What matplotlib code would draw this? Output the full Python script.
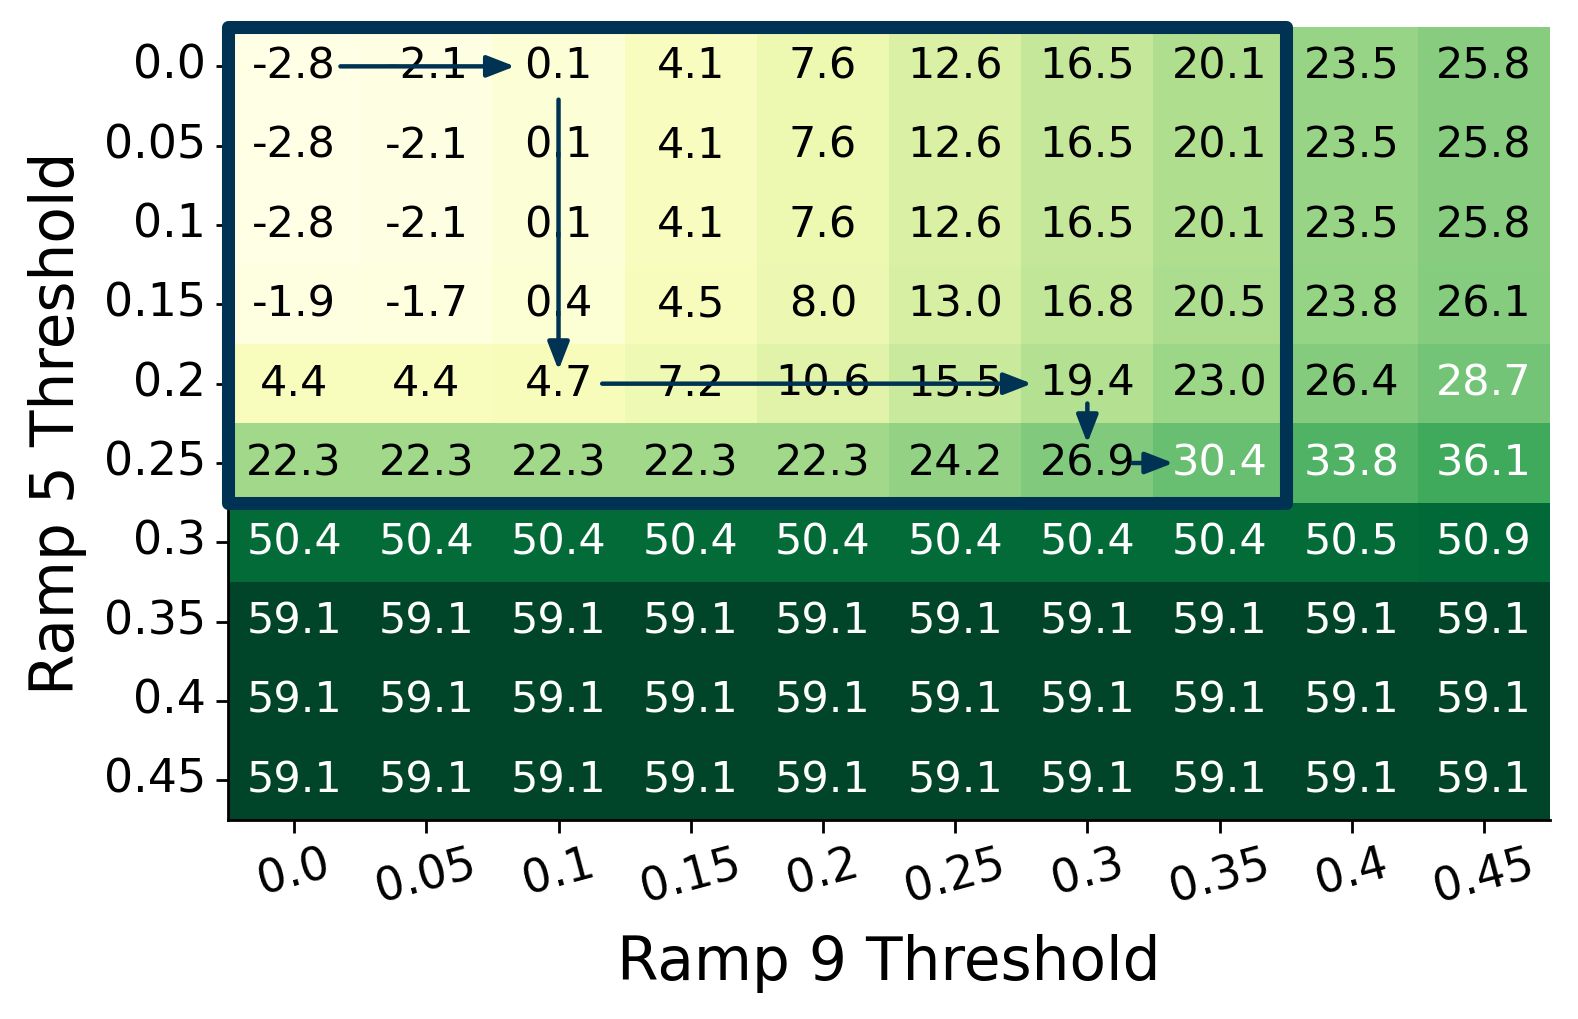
import numpy as np
import matplotlib
matplotlib.use("Agg")
import matplotlib.pyplot as plt
import seaborn as sns
from matplotlib.patches import Rectangle

# Ramp 5 threshold (rows) x Ramp 9 threshold (cols)
ramp5 = ["0.0", "0.05", "0.1", "0.15", "0.2", "0.25", "0.3", "0.35", "0.4", "0.45"]
ramp9 = ["0.0", "0.05", "0.1", "0.15", "0.2", "0.25", "0.3", "0.35", "0.4", "0.45"]

row_00 = [-2.8, -2.1, 0.1, 4.1, 7.6, 12.6, 16.5, 20.1, 23.5, 25.8]
row_05 = [-2.8, -2.1, 0.1, 4.1, 7.6, 12.6, 16.5, 20.1, 23.5, 25.8]
row_10 = [-2.8, -2.1, 0.1, 4.1, 7.6, 12.6, 16.5, 20.1, 23.5, 25.8]
row_15 = [-1.9, -1.7, 0.4, 4.5, 8.0, 13.0, 16.8, 20.5, 23.8, 26.1]
row_20 = [4.4, 4.4, 4.7, 7.2, 10.6, 15.5, 19.4, 23.0, 26.4, 28.7]
row_25 = [22.3, 22.3, 22.3, 22.3, 22.3, 24.2, 26.9, 30.4, 33.8, 36.1]
row_30 = [50.4, 50.4, 50.4, 50.4, 50.4, 50.4, 50.4, 50.4, 50.5, 50.9]
row_35 = [59.1] * 10
row_40 = [59.1] * 10
row_45 = [59.1] * 10

grid = np.array([row_00, row_05, row_10, row_15, row_20,
                 row_25, row_30, row_35, row_40, row_45])

# search path drawn over the grid (start -> end, in cell units)
path_arrows = [
    ((0.85, 0.5), (2.17, 0.5)),
    ((2.5, 0.92), (2.5, 4.33)),
    ((2.83, 4.5), (6.08, 4.5)),
    ((6.5, 4.75), (6.5, 5.25)),
    ((6.84, 5.5), (7.15, 5.5)),
]
box_cols, box_rows = 8, 6
navy = "#003353"
white_above = 27.5

fig = plt.figure(figsize=(7.89, 5.095), dpi=200)
ax = fig.add_axes([0.1445, 0.1953, 0.8378, 0.7785])

sns.heatmap(grid, ax=ax, cmap="YlGn", annot=False, cbar=False,
            xticklabels=ramp9, yticklabels=ramp5)

for i in range(grid.shape[0]):
    for j in range(grid.shape[1]):
        v = grid[i, j]
        ax.text(j + 0.5, i + 0.5, f"{v:.1f}", ha="center", va="center",
                fontsize=15.5, color="white" if v > white_above else "black")

ax.add_patch(Rectangle((0, 0), box_cols, box_rows, fill=False, edgecolor=navy,
                       lw=4.7, joinstyle="round", clip_on=False, zorder=5))

for start, end in path_arrows:
    ax.annotate("", xy=end, xytext=start,
                arrowprops=dict(arrowstyle="-|>,head_length=0.85,head_width=0.33",
                                color=navy, lw=1.6, shrinkA=0, shrinkB=0,
                                mutation_scale=10, capstyle="round"),
                zorder=6)

for side in ["left", "bottom"]:
    ax.spines[side].set_visible(True)
    ax.spines[side].set_linewidth(1.0)
    ax.spines[side].set_color("black")

ax.tick_params(axis="both", length=4.5, width=1.0, labelsize=16.5)
plt.setp(ax.get_xticklabels(), rotation=15)
plt.setp(ax.get_yticklabels(), rotation=0)
ax.set_xlabel("Ramp 9 Threshold", fontsize=21.5, labelpad=8)
ax.set_ylabel("Ramp 5 Threshold", fontsize=21.5, labelpad=6)

fig.savefig("out.png", dpi=200)
